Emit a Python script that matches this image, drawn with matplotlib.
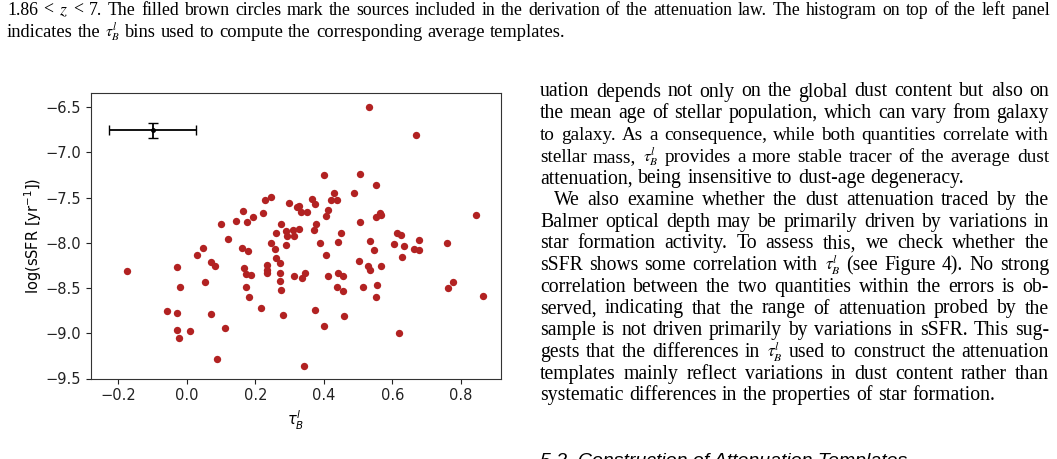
import matplotlib
matplotlib.use("Agg")
import matplotlib.pyplot as plt

# =========================================================
# DATA
# =========================================================

tau_b = [
    -0.174, -0.059, -0.030, -0.029, -0.020, -0.030, -0.023, 0.010, 0.030, 0.047,
    0.053, 0.069, 0.082, 0.071, 0.087, 0.110, 0.099, 0.120, 0.144, 0.165,
    0.174, 0.192, 0.161, 0.177, 0.168, 0.172, 0.188, 0.172, 0.180, 0.215,
    0.222, 0.228, 0.246, 0.235, 0.235, 0.234, 0.246, 0.258, 0.260, 0.259,
    0.274, 0.273, 0.271, 0.271, 0.275, 0.281, 0.288, 0.288, 0.293, 0.309,
    0.314, 0.327, 0.299, 0.321, 0.327, 0.332, 0.352, 0.366, 0.373, 0.314,
    0.337, 0.345, 0.342, 0.373, 0.401, 0.460, 0.378, 0.372, 0.390, 0.406,
    0.413, 0.442, 0.455, 0.439, 0.457, 0.450, 0.442, 0.400, 0.413, 0.406,
    0.420, 0.437, 0.428, 0.488, 0.505, 0.532, 0.669, 0.553, 0.504, 0.553,
    0.564, 0.568, 0.502, 0.530, 0.535, 0.536, 0.547, 0.555, 0.551, 0.515,
    0.568, 0.604, 0.612, 0.624, 0.634, 0.627, 0.664, 0.679, 0.678, 0.619,
    0.759, 0.763, 0.776, 0.863, 0.845,
]

log_ssfr = [
    -8.306, -8.755, -8.774, -8.266, -8.487, -8.965, -9.050, -8.979, -8.134, -8.056,
    -8.438, -8.214, -8.255, -8.792, -9.281, -8.946, -7.787, -7.960, -7.754, -7.644,
    -7.773, -7.714, -8.056, -8.085, -8.277, -8.347, -8.350, -8.493, -8.600, -8.725,
    -7.666, -7.530, -7.493, -8.247, -8.295, -8.332, -8.004, -8.071, -8.166, -7.894,
    -7.787, -8.228, -8.332, -8.424, -8.516, -8.802, -8.019, -7.869, -7.920, -7.861,
    -7.927, -7.850, -7.560, -7.604, -7.596, -7.662, -7.662, -7.519, -7.574, -8.365,
    -8.390, -8.330, -9.362, -8.744, -8.921, -8.810, -7.795, -7.854, -8.004, -8.129,
    -8.369, -8.328, -8.365, -8.490, -8.531, -7.894, -7.993, -7.254, -7.640, -7.703,
    -7.530, -7.530, -7.445, -7.453, -7.235, -6.492, -6.812, -7.361, -7.765, -7.718,
    -7.666, -7.696, -8.203, -8.251, -8.295, -7.975, -8.082, -8.468, -8.604, -8.490,
    -8.255, -8.015, -7.886, -7.916, -8.038, -8.152, -8.071, -8.074, -7.964, -8.998,
    -7.997, -8.501, -8.438, -8.586, -7.696,
]

# typical uncertainty shown in the upper left
err_x, err_y = -0.100, -6.754
err_dx, err_dy = 0.127, 0.085

x_ticks = [-0.2, 0.0, 0.2, 0.4, 0.6, 0.8]
y_ticks = [-9.5, -9.0, -8.5, -8.0, -7.5, -7.0, -6.5]

caption_lines = [
    "1.86 < $z$ < 7. The filled brown circles mark the sources included in the derivation "
    "of the attenuation law. The histogram on top of the left panel",
    "indicates the $\\tau^l_B$ bins used to compute the corresponding average templates.",
]

body_lines = [
    "uation depends not only on the global dust content but also on",
    "the mean age of stellar population, which can vary from galaxy",
    "to galaxy. As a consequence, while both quantities correlate with",
    "stellar mass, $\\tau^l_B$ provides a more stable tracer of the average dust",
    "attenuation, being insensitive to dust-age degeneracy.",
    "We also examine whether the dust attenuation traced by the",
    "Balmer optical depth may be primarily driven by variations in",
    "star formation activity. To assess this, we check whether the",
    "sSFR shows some correlation with $\\tau^l_B$ (see Figure 4). No strong",
    "correlation between the two quantities within the errors is ob-",
    "served, indicating that the range of attenuation probed by the",
    "sample is not driven primarily by variations in sSFR. This sug-",
    "gests that the differences in $\\tau^l_B$ used to construct the attenuation",
    "templates mainly reflect variations in dust content rather than",
    "systematic differences in the properties of star formation.",
]
body_last = [4, 14]      # last lines of paragraphs (not justified)
body_indent = [5]        # first line of a paragraph

heading = "5.2. Construction of Attenuation Templates"

# =========================================================
# FIGURE
# =========================================================

W, H = 1057, 459
fig = plt.figure(figsize=(W / 100, H / 100), dpi=100)
renderer = fig.canvas.get_renderer()

ax = fig.add_axes([91 / W, 1 - 378.5 / H, 410 / W, 285.2 / H])
ax.scatter(tau_b, log_ssfr, s=28, color="#b22222", linewidths=0, zorder=3)
ax.errorbar(err_x, err_y, xerr=err_dx, yerr=err_dy, fmt="o", ms=2.5,
            color="black", ecolor="black", elinewidth=1.3, capsize=3.5, capthick=1.0)

ax.set_xlim(-0.28, 0.917)
ax.set_ylim(-9.5, -6.346)
ax.set_xticks(x_ticks)
ax.set_yticks(y_ticks)
ax.tick_params(labelsize=10.5, colors="#222222")
for sp in ax.spines.values():
    sp.set_color("#333333")
ax.set_xlabel("$\\tau_B^l$", fontsize=10.5)
ax.set_ylabel("log(sSFR [yr$^{-1}$])", fontsize=10.5, labelpad=1)


# =========================================================
# PAGE TEXT
# =========================================================

SERIF = dict(family="Liberation Serif", color="black", math_fontfamily="stix")
MATH_SCALE = 0.85   # keeps the tau super/subscripts inside the line


def word_size(w, size):
    return size * MATH_SCALE if w.startswith("$") and "^" in w else size


def word_widths(words, size):
    widths = []
    for w in words:
        t = fig.text(0, 0, w, fontsize=word_size(w, size), **SERIF)
        widths.append(t.get_window_extent(renderer).width)
        t.remove()
    return widths


def text_line(s, x0, x1, y, size, justify=True):
    words = s.split(" ")
    widths = word_widths(words, size)
    space = 0.27 * size * 100 / 72      # a normal word space in pixels
    if justify:
        need = sum(widths) + 1.15 * space * (len(words) - 1)
        if need > x1 - x0:
            # line too long for the column: shrink it a bit
            size = size * (x1 - x0) / need
            widths = word_widths(words, size)
        gap = (x1 - x0 - sum(widths)) / (len(words) - 1)
    else:
        gap = space
    x = x0
    for w, wd in zip(words, widths):
        fig.text(x / W, 1 - y / H, w, va="baseline", ha="left",
                 fontsize=word_size(w, size), **SERIF)
        x += wd + gap


# caption at the top
text_line(caption_lines[0], 7, 1050, 15, 12.8)
text_line(caption_lines[1], 7, 1050, 37, 13.3, justify=False)

# right column
for i, line in enumerate(body_lines):
    y = 96.5 + i * 21.7
    x0 = 554 if i in body_indent else 540
    text_line(line, x0, 1049, y, 14.2, justify=i not in body_last)

# section heading, cut off by the page bottom as in the page
fig.text(540 / W, 1 - 466 / H, heading, va="baseline", ha="left",
         fontsize=14, family="Liberation Sans", style="italic", color="black")

fig.savefig("out.png", dpi=100)
